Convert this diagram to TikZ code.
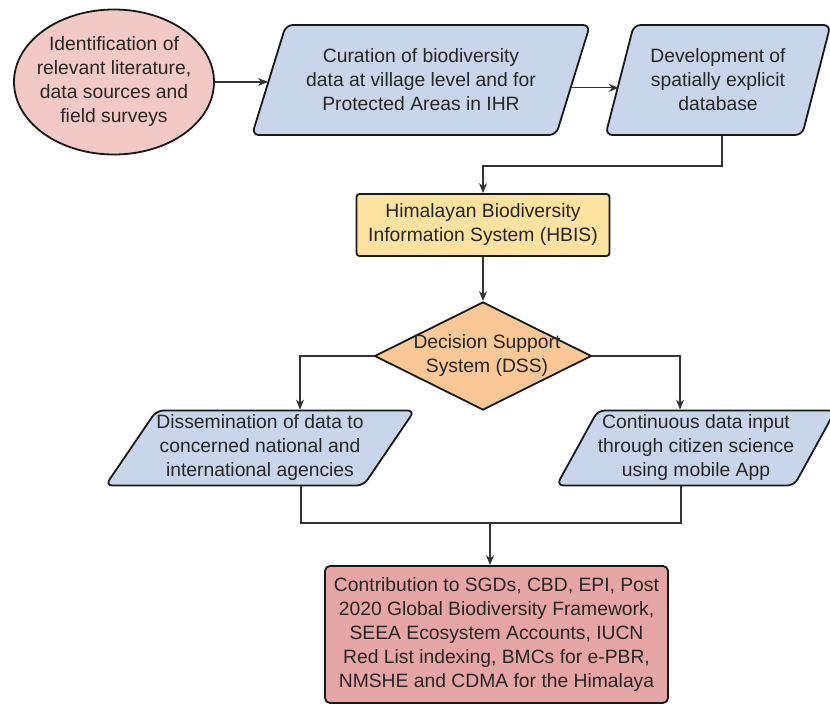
\documentclass[tikz,border=0pt]{standalone}
\usepackage{fontspec}
\setmainfont{Liberation Sans}
\usetikzlibrary{shapes.geometric,arrows.meta,calc}
\definecolor{pinkA}{HTML}{F3C9C5}
\definecolor{blueA}{HTML}{C8D5EA}
\definecolor{yellowA}{HTML}{FDE2A0}
\definecolor{orangeA}{HTML}{F9C896}
\definecolor{redA}{HTML}{E6A6A6}
\begin{document}
\begin{tikzpicture}[x=1pt,y=-1pt,
  txt/.style={font=\fontsize{19.3}{24}\selectfont, align=center, text=black!85},
  box/.style={draw=black!90, line width=1.8pt},
  para/.style={box, txt, trapezium, trapezium stretches body, rounded corners=7pt, fill=blueA, inner sep=0pt},
  conn/.style={draw=black!80, line width=1.2pt},
  arr/.style={conn, -{Stealth[length=10pt,width=8pt]}},
]
\useasboundingbox[fill=white] (0,0) rectangle (830,706);

\node[box, ellipse, fill=pinkA, minimum width=200pt, minimum height=145pt, inner sep=0pt,
  label={[txt]center:{Identification of\\relevant literature,\\data sources and\\field surveys}}] (lit) at (114,82) {};

\node[para, minimum width=338pt, minimum height=110pt, trapezium left angle=61.4, trapezium right angle=118.6] (cur) at (421,80)
  {Curation of biodiversity\\data at village level and for\\Protected Areas in IHR};

\node[para, minimum width=225pt, minimum height=110pt, trapezium left angle=65.5, trapezium right angle=114.5] (dev) at (718,80)
  {Development of\\spatially explicit\\database};

\node[box, txt, rectangle, rounded corners=3pt, fill=yellowA, minimum width=253pt, minimum height=62pt, inner sep=0pt] (hbis) at (483,225)
  {Himalayan Biodiversity\\Information System (HBIS)};

\node[box, diamond, fill=orangeA, minimum width=217pt, minimum height=108pt, inner sep=0pt,
  label={[txt, xshift=4pt, yshift=0pt]center:{Decision Support\\System (DSS)}}] (dss) at (483,356) {};

\node[para, minimum width=293pt, minimum height=75pt, trapezium left angle=52.3, trapezium right angle=127.7] (dis) at (260,448)
  {Dissemination of data to\\concerned national and\\international agencies};

\node[para, minimum width=263pt, minimum height=75pt, trapezium left angle=58, trapezium right angle=122] (con) at (696,448)
  {Continuous data input\\through citizen science\\using mobile App};

\node[box, txt, rectangle, rounded corners=5pt, fill=redA, minimum width=343pt, minimum height=137pt, inner sep=0pt] (out) at (496.5,634.5)
  {Contribution to SGDs, CBD, EPI, Post\\2020 Global Biodiversity Framework,\\SEEA Ecosystem Accounts, IUCN\\Red List indexing, BMCs for e-PBR,\\NMSHE and CDMA for the Himalaya};

\draw[arr] (lit.east) -- (lit.east -| cur.west);
\draw[arr] (cur.-3) -- (cur.-3 -| dev.west);
\draw[arr] ([xshift=4pt]dev.south) -- ++(0,30) -| (hbis.north);
\draw[arr] (hbis.south) -- (dss.north);
\draw[arr] (dss.west) -| ([xshift=40pt]dis.north);
\draw[arr] (dss.east) -| ([xshift=-16pt]con.north);
\coordinate (m) at (490,523);
\draw[conn] ([xshift=41pt]dis.south) |- (m) -| ([xshift=-15pt]con.south);
\draw[arr] (m) -- (m |- out.north);
\end{tikzpicture}
\end{document}
